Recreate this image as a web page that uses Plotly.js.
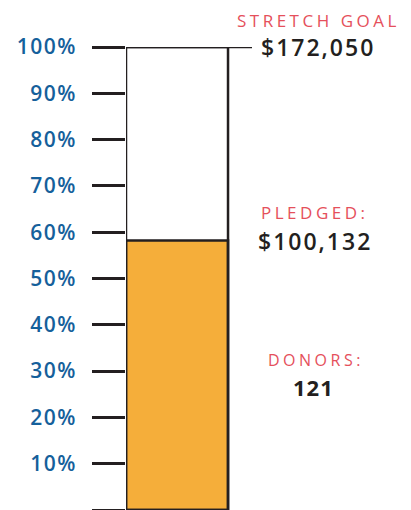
<!DOCTYPE html>
<html>
<head>
<meta charset="utf-8">
<script src="https://cdn.plot.ly/plotly-3.0.1.min.js"></script>
<style>html,body{margin:0;padding:0;background:#fff;}#chart{width:411px;height:510px;}</style>
</head>
<body>
<div id="chart"></div>
<script>
const categories = ['Pledged'];
const pledged = [100132];
const stretchGoal = [172050];
const donors = [121];
const tickValues = [0, 10, 20, 30, 40, 50, 60, 70, 80, 90, 100];
const tickLabels = ['', '10%', '20%', '30%', '40%', '50%', '60%', '70%', '80%', '90%', '100%'];

const pct = pledged.map((v, i) => v / stretchGoal[i] * 100);
const full = categories.map(() => 100);
const fmt = v => '$' + v.toLocaleString('en-US');

const dark = '#231f20';
const red = '#e5505b';
const blue = '#15609b';
const font = 'Open Sans, sans-serif';
const sp = (t, ls) => '<span style="letter-spacing:' + ls + 'px">' + t + '</span>';
const py = p => (510 - p) / 463;   // helper: pixel row to paper fraction

const traces = [
  {type: 'bar', x: [0.5], y: pct, width: [1], marker: {color: '#f5ae3a', line: {color: dark, width: 2.5}}, cliponaxis: false, hoverinfo: 'skip'},
  {type: 'bar', x: [0.5], y: full, width: [1], marker: {color: 'rgba(0,0,0,0)', line: {color: dark, width: 2.5}}, cliponaxis: false, hoverinfo: 'skip'}
];

const layout = {
  width: 411, height: 510,
  margin: {l: 126, r: 159, t: 47, b: 0},
  paper_bgcolor: '#fff', plot_bgcolor: '#fff',
  barmode: 'overlay',
  showlegend: false,
  xaxis: {range: [0, 1.235], visible: false, fixedrange: true},
  yaxis: {
    range: [0, 100], tickmode: 'array', tickvals: tickValues,
    ticktext: tickLabels.map(t => sp(t, 1.5)),
    ticks: 'outside', ticklen: 33, tickwidth: 3, tickcolor: dark,
    ticklabelstandoff: 11,
    showgrid: false, zeroline: false, showline: false,
    tickfont: {family: font, size: 21, color: blue, weight: 600},
    fixedrange: true
  },
  shapes: [
    {type: 'line', xref: 'paper', yref: 'y', x0: 0, x1: 1, y0: 100, y1: 100, layer: 'above', line: {color: dark, width: 2.5}}
  ],
  annotations: [
    {xref: 'paper', yref: 'paper', x: 1.53, y: py(21), xanchor: 'center', yanchor: 'middle', showarrow: false,
     text: sp('STRETCH GOAL', 3.5), font: {family: font, size: 17, color: red, weight: 400}},
    {xref: 'paper', yref: 'paper', x: 1.52, y: py(47), xanchor: 'center', yanchor: 'middle', showarrow: false,
     text: sp(fmt(stretchGoal[0]), 2), font: {family: font, size: 23, color: dark, weight: 600}},
    {xref: 'paper', yref: 'paper', x: 1.5, y: py(212), xanchor: 'center', yanchor: 'middle', showarrow: false,
     text: sp('PLEDGED:', 3.5), font: {family: font, size: 17, color: red, weight: 400}},
    {xref: 'paper', yref: 'y', x: 1.5, y: pct[0], xanchor: 'center', yanchor: 'middle', showarrow: false,
     text: sp(fmt(pledged[0]), 2), font: {family: font, size: 23, color: dark, weight: 600}},
    {xref: 'paper', yref: 'paper', x: 1.51, y: py(360), xanchor: 'center', yanchor: 'middle', showarrow: false,
     text: sp('DONORS:', 3.5), font: {family: font, size: 16, color: red, weight: 400}},
    {xref: 'paper', yref: 'paper', x: 1.49, y: py(387), xanchor: 'center', yanchor: 'middle', showarrow: false,
     text: sp(String(donors[0]), 1), font: {family: font, size: 22, color: dark, weight: 700}}
  ]
};

Plotly.newPlot('chart', traces, layout, {displayModeBar: false, staticPlot: true});
</script>
</body>
</html>
